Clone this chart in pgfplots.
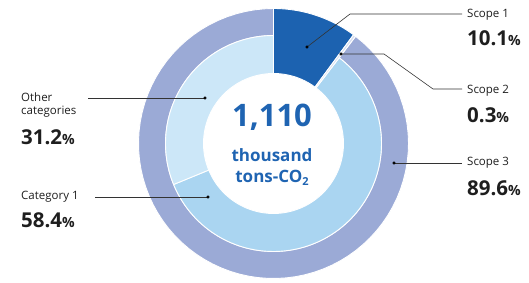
\documentclass[border=0pt]{standalone}
\usepackage{fontspec}
\setmainfont{Open Sans}
\usepackage{pgfplots}
\pgfplotsset{compat=1.18}
\definecolor{scopeone}{HTML}{1C62B0}
\definecolor{scopetwo}{HTML}{D6DEF0}
\definecolor{catone}{HTML}{AAD5F1}
\definecolor{othercat}{HTML}{CCE7F8}
\definecolor{scopethree}{HTML}{9BAAD6}
\definecolor{ctext}{HTML}{1F64B2}
\definecolor{ltext}{HTML}{1E1E1E}
\definecolor{lline}{HTML}{333333}
% sector: #1 inner radius, #2 outer radius, #3 start (percent, clockwise from top), #4 share (percent), #5 colour
% parameter x runs 0..160: outer arc forward (x<=80), inner arc backward (x>80)
\newcommand\sector[5]{%
\addplot[fill=#5, draw=white, line width=0.9pt, line join=round,
  samples at={0,1,...,80,80.001,81,82,...,160}]
 ({273.5+(#1+(#2-#1)*min(1,max(0,(80.0005-x)*100000)))*cos(90-3.6*(#3+#4*min(x,160-x)/80))},
  {139.5+(#1+(#2-#1)*min(1,max(0,(80.0005-x)*100000)))*sin(90-3.6*(#3+#4*min(x,160-x)/80))}) -- cycle;
}
\newcommand\lab[1]{{\fontsize{11.5}{15}\selectfont #1}}
\newcommand\val[1]{{\fontsize{20.5}{22}\selectfont\bfseries #1}{\fontsize{14}{15}\selectfont\bfseries\%}}
\begin{document}
\begin{tikzpicture}
\useasboundingbox (0,0) rectangle (529pt,283pt);
\begin{axis}[
  at={(0,0)}, anchor=south west,
  scale only axis, width=529pt, height=283pt,
  xmin=0, xmax=529, ymin=0, ymax=283,
  hide axis, clip=false]
% outer ring: Scope 3
\sector{108}{135}{10.4}{89.6}{scopethree}
% inner ring: Scope 3 breakdown
\sector{70}{108}{10.4}{58.4}{catone}
\sector{70}{108}{68.8}{31.2}{othercat}
% Scope 1 and Scope 2 (full width)
\sector{70}{135}{0}{10.1}{scopeone}
\sector{70}{135}{10.1}{0.3}{scopetwo}
% leader lines
\addplot[lline, line width=0.6pt] coordinates {(307,236) (350,269) (462,269)};
\addplot[lline, line width=0.6pt] coordinates {(341,229) (384,229) (433,194) (462,194)};
\addplot[lline, line width=0.6pt] coordinates {(394,120) (462,120)};
\addplot[lline, line width=0.6pt] coordinates {(88,185) (205,185)};
\addplot[lline, line width=0.6pt] coordinates {(95,86) (208,86)};
\addplot[only marks, mark=*, mark size=1.3pt, color=black] coordinates {(307,236) (341,229) (394,120) (205,185) (208,86)};
% labels right
\node[anchor=west, text=ltext, inner sep=0pt] at (467,268) {\lab{Scope 1}};
\node[anchor=west, text=ltext, inner sep=0pt] at (467,245) {\val{10.1}};
\node[anchor=west, text=ltext, inner sep=0pt] at (467,192) {\lab{Scope 2}};
\node[anchor=west, text=ltext, inner sep=0pt] at (467,168) {\val{0.3}};
\node[anchor=west, text=ltext, inner sep=0pt] at (467,120) {\lab{Scope 3}};
\node[anchor=west, text=ltext, inner sep=0pt] at (467,95) {\val{89.6}};
% labels left
\node[anchor=west, text=ltext, inner sep=0pt] at (21,186) {\lab{Other}};
\node[anchor=west, text=ltext, inner sep=0pt] at (21,171) {\lab{categories}};
\node[anchor=west, text=ltext, inner sep=0pt] at (21,146) {\val{31.2}};
\node[anchor=west, text=ltext, inner sep=0pt] at (21,86) {\lab{Category 1}};
\node[anchor=west, text=ltext, inner sep=0pt] at (21,63) {\val{58.4}};
% centre
\node[text=ctext, inner sep=0pt] at (272,166) {\fontsize{31}{32}\selectfont\bfseries 1,110};
\node[text=ctext, inner sep=0pt] at (272,128) {\fontsize{17}{20}\selectfont\bfseries thousand};
\node[text=ctext, inner sep=0pt] at (272,105) {\fontsize{17}{20}\selectfont\bfseries tons-CO\raisebox{-0.3ex}{\fontsize{11}{11}\selectfont 2}};
\end{axis}
\end{tikzpicture}
\end{document}
